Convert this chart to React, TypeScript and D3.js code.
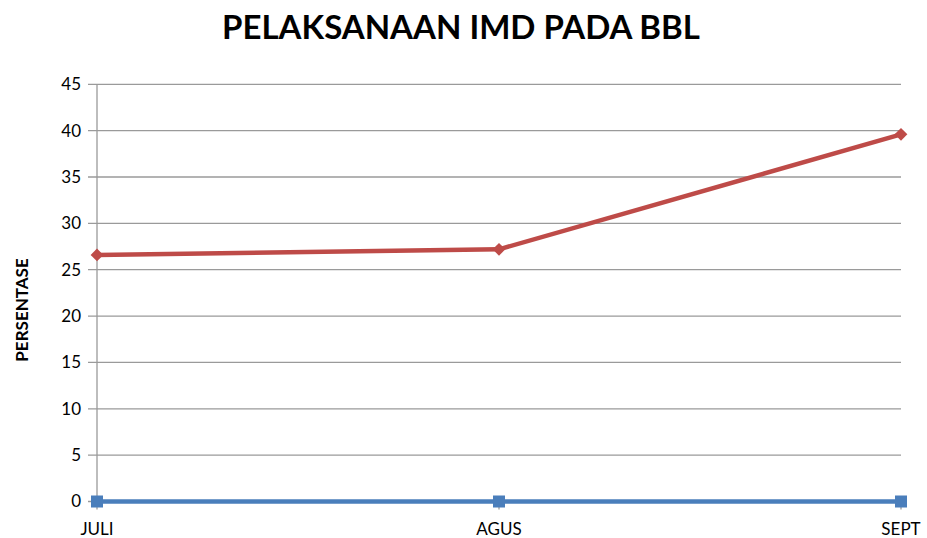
import React, { useEffect, useRef } from 'react';
import * as d3 from 'd3';

const months = ['JULI', 'AGUS', 'SEPT'];
const persenIMD = [26.6, 27.2, 39.6];
const persenLain = [0, 0, 0];
const yTicks = [0, 5, 10, 15, 20, 25, 30, 35, 40, 45];

const App: React.FC = () => {
    const svgRef = useRef<SVGSVGElement>(null);

    useEffect(() => {
        const svg = d3.select(svgRef.current);
        svg.selectAll('*').remove();

        const width = 927;
        const height = 538;
        const font = 'Lato, Carlito, "Liberation Sans", sans-serif';

        svg.attr('width', width).attr('height', height).style('background', '#fff');

        const x = d3.scalePoint<string>().domain(months).range([97, 901]);
        const y = d3.scaleLinear().domain([0, 45]).range([501.5, 84.3]);

        // Title
        svg.append('text')
            .attr('x', 461)
            .attr('y', 39)
            .attr('text-anchor', 'middle')
            .style('font-family', font)
            .style('font-weight', 'bold')
            .style('font-size', '33px')
            .text('PELAKSANAAN IMD PADA BBL');

        // Y axis label
        svg.append('text')
            .attr('transform', 'translate(28,310) rotate(-90)')
            .attr('text-anchor', 'middle')
            .style('font-family', font)
            .style('font-weight', 'bold')
            .style('font-size', '17px')
            .text('PERSENTASE');

        // Gridlines
        svg.append('g')
            .selectAll('line')
            .data(yTicks)
            .enter()
            .append('line')
            .attr('x1', 88)
            .attr('x2', 901)
            .attr('y1', d => y(d))
            .attr('y2', d => y(d))
            .attr('stroke', '#9a9a9a')
            .attr('stroke-width', 1.3);

        // Y tick labels
        svg.append('g')
            .selectAll('text')
            .data(yTicks)
            .enter()
            .append('text')
            .attr('x', 81)
            .attr('y', d => y(d))
            .attr('dy', '0.35em')
            .attr('text-anchor', 'end')
            .style('font-family', font)
            .style('font-size', '17px')
            .text(d => d);

        // Axis lines
        svg.append('line')
            .attr('x1', x('JULI')!).attr('x2', x('JULI')!)
            .attr('y1', y(45)).attr('y2', y(0))
            .attr('stroke', '#9a9a9a').attr('stroke-width', 1.3);

        svg.append('g')
            .selectAll('line')
            .data(months)
            .enter()
            .append('line')
            .attr('x1', d => x(d)!)
            .attr('x2', d => x(d)!)
            .attr('y1', y(0))
            .attr('y2', y(0) + 8)
            .attr('stroke', '#9a9a9a')
            .attr('stroke-width', 1.3);

        // X labels
        svg.append('g')
            .selectAll('text')
            .data(months)
            .enter()
            .append('text')
            .attr('x', d => x(d)!)
            .attr('y', 535)
            .attr('text-anchor', 'middle')
            .style('font-family', font)
            .style('font-size', '17px')
            .text(d => d);

        const line = d3.line<number>()
            .x((_, i) => x(months[i])!)
            .y(d => y(d));

        // Blue series
        svg.append('path')
            .datum(persenLain)
            .attr('d', line)
            .attr('fill', 'none')
            .attr('stroke', '#4a7ebb')
            .attr('stroke-width', 4.5);

        svg.append('g')
            .selectAll('rect')
            .data(persenLain)
            .enter()
            .append('rect')
            .attr('x', (_, i) => x(months[i])! - 6)
            .attr('y', d => y(d) - 6)
            .attr('width', 12)
            .attr('height', 12)
            .attr('fill', '#4a7ebb');

        // Red series
        svg.append('path')
            .datum(persenIMD)
            .attr('d', line)
            .attr('fill', 'none')
            .attr('stroke', '#be4b48')
            .attr('stroke-width', 4.5);

        // diamond markers: rotated squares
        svg.append('g')
            .selectAll('rect')
            .data(persenIMD)
            .enter()
            .append('rect')
            .attr('x', -4.5)
            .attr('y', -4.5)
            .attr('width', 9)
            .attr('height', 9)
            .attr('transform', (d, i) => `translate(${x(months[i])},${y(d)}) rotate(45)`)
            .attr('fill', '#be4b48');
    }, []);

    return <svg ref={svgRef} style={{ display: 'block', position: 'absolute', left: 0, top: 0 }}></svg>;
};

export default App;
